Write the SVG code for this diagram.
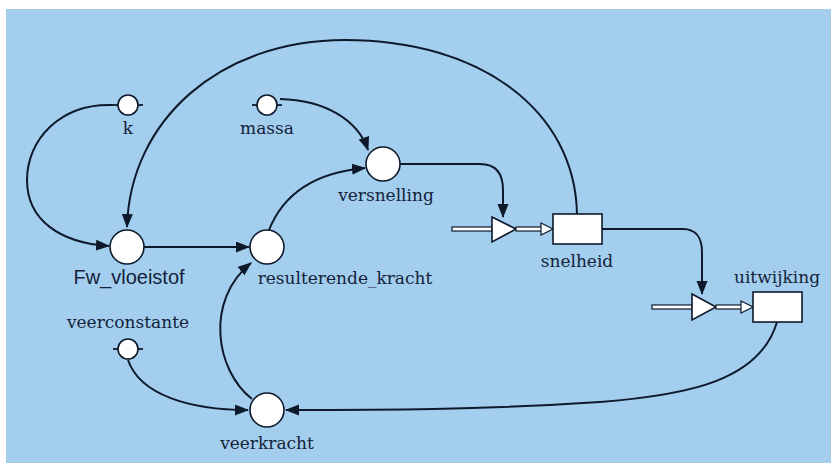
<svg xmlns="http://www.w3.org/2000/svg" width="831" height="464" viewBox="0 0 831 464">
<style>
.bg{fill:#a3ceee}
.node{fill:#fff;stroke:#0e1a2b;stroke-width:1.6}
.tab{stroke:#0e1a2b;stroke-width:1.8}
.conn{fill:none;stroke:#0e1a2b;stroke-width:2}
.pipe{fill:#fff;stroke:#0e1a2b;stroke-width:1.2}
.lbl{font-family:"DejaVu Serif",serif;font-size:17px;fill:#14233a;text-anchor:middle}
.sans{font-family:"Liberation Sans",Arial,sans-serif;font-size:20px;fill:#14233a;text-anchor:middle}
</style>
<defs>
<marker id="arr" markerUnits="userSpaceOnUse" markerWidth="15" markerHeight="12" refX="13" refY="5.5" orient="auto">
<path d="M0,0 L14,5.5 L0,11 z" fill="#0e1a2b"/>
</marker>
</defs>
<rect class="bg" x="6" y="9" width="825" height="454"/>
<g id="connectors">
<path class="conn" d="M113,105 C60,103 27,140 27,180 C27,220 60,243 109,246" marker-end="url(#arr)"/>
<path class="conn" d="M280,99 C325,100 358,120 368,150" marker-end="url(#arr)"/>
<path class="conn" d="M269,230 C285,190 320,172 365,168" marker-end="url(#arr)"/>
<path class="conn" d="M144,247 L249,247" marker-end="url(#arr)"/>
<path class="conn" d="M128,360 C140,395 190,410 248,410" marker-end="url(#arr)"/>
<path class="conn" d="M252,399 C215,370 205,300 251,263" marker-end="url(#arr)"/>
<path class="conn" d="M400,164 L480,164 C495,164 503,172 503,190 L503,217" marker-end="url(#arr)"/>
<path class="conn" d="M602,229 L683,229 C696,229 702,238 702,252 L702,294" marker-end="url(#arr)"/>
<path class="conn" d="M777,322 C760,380 690,395 600,402 C480,410 380,410 286,410" marker-end="url(#arr)"/>
<path class="conn" d="M577,214 C575,110 480,40 345,40 C220,40 130,120 127,227" marker-end="url(#arr)"/>
</g>
<g id="k">
<line class="tab" x1="113" y1="105" x2="143" y2="105"/>
<circle class="node" cx="128" cy="105" r="10"/>
<text class="lbl" x="128" y="134">k</text>
</g>
<g id="massa">
<line class="tab" x1="252" y1="105" x2="282" y2="105"/>
<circle class="node" cx="267" cy="105" r="10"/>
<text class="lbl" x="267" y="134">massa</text>
</g>
<g id="veerconstante">
<line class="tab" x1="113" y1="349" x2="143" y2="349"/>
<circle class="node" cx="128" cy="349" r="10"/>
<text class="lbl" x="128" y="328">veerconstante</text>
</g>
<g id="versnelling">
<circle class="node" cx="383" cy="164" r="17"/>
<text class="lbl" x="386" y="201">versnelling</text>
</g>
<g id="Fw_vloeistof">
<circle class="node" cx="127" cy="247" r="17"/>
<text class="sans" x="129" y="284">Fw_vloeistof</text>
</g>
<g id="resulterende_kracht">
<circle class="node" cx="267" cy="247" r="17"/>
<text class="lbl" x="345" y="284">resulterende_kracht</text>
</g>
<g id="veerkracht">
<circle class="node" cx="267" cy="410" r="17"/>
<text class="lbl" x="267" y="449">veerkracht</text>
</g>
<g id="snelheid">
<rect class="pipe" x="452" y="227" width="40" height="4"/>
<polygon class="node" points="492,217 516,229 492,242"/>
<rect class="pipe" x="516" y="227" width="26" height="4"/>
<polygon class="pipe" points="541,223 553,229 541,235"/>
<rect class="node" x="553" y="214" width="49" height="30"/>
<text class="lbl" x="577" y="267">snelheid</text>
</g>
<g id="uitwijking">
<rect class="pipe" x="652" y="305" width="40" height="4"/>
<polygon class="node" points="692,294 716,307 692,320"/>
<rect class="pipe" x="716" y="305" width="26" height="4"/>
<polygon class="pipe" points="741,301 753,307 741,313"/>
<rect class="node" x="753" y="292" width="49" height="30"/>
<text class="lbl" x="777" y="283">uitwijking</text>
</g>
</svg>
